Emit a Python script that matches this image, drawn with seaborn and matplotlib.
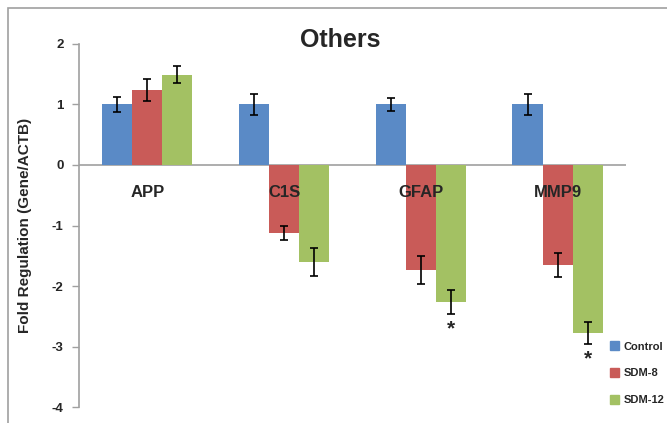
import numpy as np
import pandas as pd
import matplotlib.pyplot as plt
import matplotlib.patches as mpatches
import seaborn as sns

# data
genes = ["APP", "C1S", "GFAP", "MMP9"]
groups = ["Control", "SDM-8", "SDM-12"]
control = [1.0, 1.0, 1.0, 1.0]
sdm8 = [1.24, -1.12, -1.74, -1.65]
sdm12 = [1.49, -1.61, -2.26, -2.78]
err_control = [0.12, 0.18, 0.11, 0.18]
err_sdm8 = [0.18, 0.12, 0.23, 0.20]
err_sdm12 = [0.14, 0.23, 0.20, 0.18]
# significance stars (gene, group)
stars = [("GFAP", "SDM-12"), ("MMP9", "SDM-12")]

colors = ["#5A8AC6", "#C95B58", "#A3C163"]

df = pd.DataFrame({
    "gene": genes * 3,
    "group": np.repeat(groups, len(genes)),
    "value": control + sdm8 + sdm12,
    "err": err_control + err_sdm8 + err_sdm12,
})

sns.set_style("white")
plt.rcParams["font.family"] = ["Liberation Sans", "DejaVu Sans"]
plt.rcParams["font.weight"] = "bold"

fig = plt.figure(figsize=(6.67, 4.23), dpi=100)
ax = fig.add_axes([0.1184, 0.0378, 0.8201, 0.8582])

sns.barplot(data=df, x="gene", y="value", hue="group", order=genes,
            hue_order=groups, palette=colors, errorbar=None, width=0.66,
            saturation=1, linewidth=0, ax=ax, legend=False)

# error bars on bar centres (patches come out hue by hue)
bars = [p for p in ax.patches if p.get_width() > 0]
for i, p in enumerate(bars):
    row = df.iloc[i]
    xc = p.get_x() + p.get_width() / 2
    ax.errorbar(xc, row["value"], yerr=row["err"], fmt="none",
                ecolor="black", elinewidth=1.2, capsize=3, capthick=1.2)
    if (row["gene"], row["group"]) in stars:
        ax.text(xc, row["value"] - row["err"] - 0.09, "*", ha="center",
                va="top", fontsize=15, fontweight="bold")

ax.axhline(0, color="#A0A0A0", lw=1.2, zorder=0)
ax.set_ylim(-4, 2)
ax.set_xlim(-0.5, 3.5)
ax.set_yticks([-4, -3, -2, -1, 0, 1, 2])
ax.set_yticklabels(["-4", "-3", "-2", "-1", "0", "1", "2"], fontsize=9.5,
                   fontweight="bold")
ax.tick_params(axis="y", direction="out", length=5, color="#A0A0A0",
               width=1.0, left=True, pad=6)
ax.set_xticks([])
ax.set_xlabel("")
ax.set_ylabel("Fold Regulation (Gene/ACTB)", fontsize=11,
              fontweight="bold", labelpad=14)
for s in ["top", "right", "bottom"]:
    ax.spines[s].set_visible(False)
ax.spines["left"].set_color("#A0A0A0")
ax.spines["left"].set_linewidth(1.2)

for i, g in enumerate(genes):
    ax.text(i, -0.46, g, ha="center", va="center", fontsize=12,
            fontweight="bold")

fig.text(0.51, 0.905, "Others", ha="center", va="center", fontsize=18,
         fontweight="bold")

handles = [mpatches.Patch(color=c, label=g) for c, g in zip(colors, groups)]
fig.legend(handles=handles, loc="upper left",
           bbox_to_anchor=(0.908, 1 - 337 / 423), frameon=False,
           handlelength=0.8, handleheight=0.8,
           handletextpad=0.4, labelspacing=1.5, borderaxespad=0,
           prop={"weight": "bold", "size": 8})

# outer chart border
fig.patches.append(mpatches.Rectangle((8 / 667, -0.1), 1.2, 1.1 - 8 / 423,
                                      transform=fig.transFigure, fill=False,
                                      edgecolor="#A0A0A0", lw=1.2))

fig.savefig("out.png", dpi=100)
